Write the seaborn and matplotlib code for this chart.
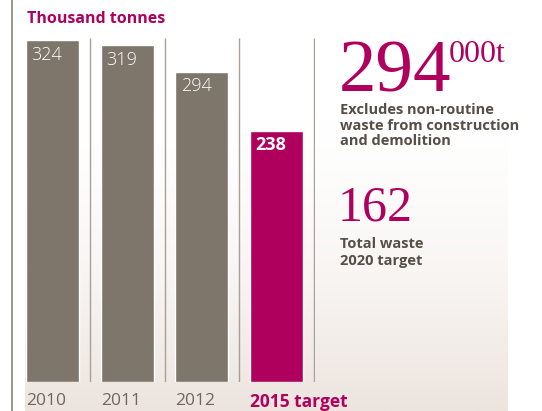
import numpy as np
import pandas as pd
import seaborn as sns
import matplotlib.pyplot as plt
from matplotlib.lines import Line2D
from matplotlib.colors import LinearSegmentedColormap

years = ["2010", "2011", "2012", "2015 target"]
waste = [324, 319, 294, 238]
bar_colors = ["#7e756b", "#7e756b", "#7e756b", "#b0005e"]
label_colors = ["#6f665e", "#6f665e", "#6f665e", "#b0005e"]

MAGENTA = "#b0005e"
DARK = "#574e47"

sns.set_theme(style="white")
plt.rcParams["font.family"] = ["Open Sans", "DejaVu Sans"]

fig = plt.figure(figsize=(5.42, 4.11), dpi=100)
fig.patch.set_facecolor("white")

# soft beige gradient behind the chart
bg = fig.add_axes([0, 0, 1, 1], zorder=-1)
bg.set_xlim(0, 542)
bg.set_ylim(411, 0)
bg.axis("off")
grad = np.linspace(0, 1, 256).reshape(-1, 1) ** 1.6
cmap = LinearSegmentedColormap.from_list("bg", ["#ffffff", "#ede4de"])
bg.imshow(grad, cmap=cmap, aspect="auto", extent=[25, 508, 411, 110])

# left rule
fig.add_artist(Line2D([12 / 542, 12 / 542], [0, 1], color="#8c8178", lw=1.2))

df = pd.DataFrame({"year": years, "waste": waste})

ax = fig.add_axes([15 / 542, 29 / 411, 300 / 542, 352 / 411])
ax.patch.set_alpha(0)
sns.barplot(data=df, x="year", y="waste", hue="year", palette=bar_colors,
            width=0.71, saturation=1, legend=False, ax=ax)
ax.set_xlim(-0.502, 3.514)
ax.set_ylim(0, 333.5)
sns.despine(ax=ax, left=True, bottom=True)
ax.set_xticks([])
ax.set_yticks([])
ax.set_xlabel("")
ax.set_ylabel("")

# thin separators between bars
for i in range(len(years)):
    ax.vlines(i + 0.5, 0, 326, color="#a79f98", lw=1)

w = 0.71
for i, (yr, v) in enumerate(zip(years, waste)):
    last = i == len(years) - 1
    ax.annotate(str(v), (i - w / 2, v), xytext=(4, -4), textcoords="offset points",
                color="white", fontsize=13, va="top", ha="left",
                fontweight="bold" if last else "light")
    ax.annotate(yr, (i - w / 2, 0), xytext=(0, -8), textcoords="offset points",
                color=label_colors[i], fontsize=12.5, va="top", ha="left",
                fontweight="bold" if last else "normal", annotation_clip=False)

fig.text(27 / 542, 1 - 11 / 411, "Thousand tonnes", color=MAGENTA, fontsize=11.5,
         fontweight="bold", va="top", ha="left")

serif = ["Liberation Serif", "DejaVu Serif"]
fig.text(339 / 542, 1 - 92 / 411, "294", color=MAGENTA, fontsize=54,
         family=serif, va="baseline", ha="left")
fig.text(449 / 542, 1 - 62 / 411, "000t", color=MAGENTA, fontsize=23,
         family=serif, va="baseline", ha="left")
fig.text(340 / 542, 1 - 103 / 411,
         "Excludes non-routine\nwaste from construction\nand demolition",
         color=DARK, fontsize=10.5, fontweight="bold", va="top", ha="left",
         linespacing=1.15)
fig.text(338 / 542, 1 - 220 / 411, "162", color=MAGENTA, fontsize=36,
         family=serif, va="baseline", ha="left")
fig.text(340 / 542, 1 - 237 / 411, "Total waste\n2020 target",
         color=DARK, fontsize=10.5, fontweight="bold", va="top", ha="left",
         linespacing=1.25)

fig.savefig("out.png", dpi=100)
